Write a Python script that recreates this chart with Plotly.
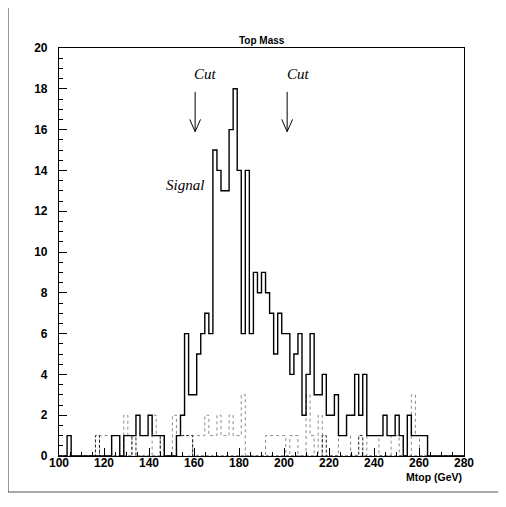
import numpy as np
import plotly.graph_objects as go

# ---------------- data ----------------
XMIN, XMAX, NBINS = 100.0, 280.0, 100

signal = [0, 0, 1, 0, 0, 0, 0, 0, 0, 0,
          0, 0, 0, 1, 1, 0, 1, 1, 1, 2,
          1, 1, 2, 1, 1, 1, 0, 0, 0, 1,
          2, 6, 3, 3, 5, 6, 7, 6, 15, 14,
          13, 13, 16, 18, 14, 6, 14, 6, 9, 8,
          9, 8, 7, 5, 7, 6, 6, 4, 5, 6,
          2, 4, 6, 3, 3, 4, 2, 2, 3, 1,
          1, 2, 2, 4, 2, 4, 1, 1, 1, 1,
          2, 1, 1, 2, 1, 0, 2, 1, 1, 1,
          1, 0, 0, 0, 0, 0, 0, 0, 0, 0]

bkg_dotted = [0, 0, 0, 0, 0, 0, 0, 0, 0, 0,
              1, 1, 1, 0, 0, 0, 2, 1, 0, 0,
              0, 0, 0, 2, 1, 0, 0, 0, 2, 0,
              0, 0, 0, 1, 1, 1, 2, 1, 1, 2,
              1, 1, 2, 1, 1, 3, 0, 0, 0, 0,
              0, 1, 1, 1, 1, 1, 0, 1, 1, 0,
              0, 3, 1, 0, 2, 0, 0, 0, 0, 1,
              1, 1, 0, 0, 0, 0, 1, 1, 1, 0,
              0, 0, 1, 1, 0, 0, 0, 3, 1, 0,
              0, 0, 0, 0, 0, 0, 0, 0, 0, 0]

bkg_dashed = [0, 0, 0, 0, 0, 0, 0, 0, 0, 1,
              0, 0, 0, 0, 0, 0, 0, 0, 1, 0,
              0, 0, 0, 0, 0, 1, 0, 0, 0, 1,
              1, 1, 1, 0, 0, 0, 0, 0, 0, 0,
              0, 0, 0, 0, 0, 0, 0, 0, 0, 0,
              0, 0, 0, 0, 0, 0, 0, 0, 0, 0,
              0, 0, 0, 0, 0, 1, 0, 0, 0, 0,
              0, 0, 0, 0, 1, 0, 0, 0, 0, 0,
              0, 0, 0, 0, 0, 0, 0, 0, 0, 0,
              0, 0, 0, 0, 0, 0, 0, 0, 0, 0]

x_tick_vals = [100, 120, 140, 160, 180, 200, 220, 240, 260, 280]
y_tick_vals = [0, 2, 4, 6, 8, 10, 12, 14, 16, 18, 20]

cut_positions = [160.5, 201.4]
cut_label_x = [164.9, 206.3]
signal_label_x, signal_label_y = 156.0, 13.3

# ---------------- figure ----------------
edges = XMIN + (XMAX - XMIN) / NBINS * np.arange(NBINS + 1)


def step(vals):
    return list(edges), list(vals) + [vals[-1]]


fig = go.Figure()

xs, ys = step(bkg_dotted)
fig.add_trace(go.Scatter(x=xs, y=ys, mode="lines", line_shape="hv",
                         line=dict(color="#8a8a8a", width=1, dash="dot"),
                         hoverinfo="skip"))
xs, ys = step(bkg_dashed)
fig.add_trace(go.Scatter(x=xs, y=ys, mode="lines", line_shape="hv",
                         line=dict(color="#222222", width=1, dash="3px,2px"),
                         hoverinfo="skip"))
xs, ys = step(signal)
fig.add_trace(go.Scatter(x=xs, y=ys, mode="lines", line_shape="hv",
                         line=dict(color="black", width=1.4),
                         hoverinfo="skip"))

# cut arrows
for c in cut_positions:
    fig.add_trace(go.Scatter(x=[c, c], y=[17.85, 15.9], mode="lines",
                             line=dict(color="black", width=1), hoverinfo="skip"))
    fig.add_trace(go.Scatter(x=[c - 2.4, c, c + 2.4], y=[16.5, 15.9, 16.5],
                             mode="lines", line=dict(color="black", width=1),
                             hoverinfo="skip"))

for cx in cut_label_x:
    fig.add_annotation(x=cx, y=18.75, text="<i>Cut</i>", showarrow=False,
                       font=dict(family="Liberation Serif", size=15, color="black"),
                       xanchor="center", yanchor="middle")
fig.add_annotation(x=signal_label_x, y=signal_label_y, text="<i>Signal</i>",
                   showarrow=False,
                   font=dict(family="Liberation Serif", size=15, color="black"),
                   xanchor="center", yanchor="middle")

# title and x label
fig.add_annotation(xref="paper", yref="paper", x=0.501, y=1.0196,
                   text="Top Mass", showarrow=False,
                   font=dict(family="Liberation Sans", size=10, color="black", weight="bold"),
                   xanchor="center", yanchor="middle")
fig.add_annotation(xref="paper", yref="paper", x=1.0, y=-0.0515,
                   text="Mtop (GeV)", showarrow=False,
                   font=dict(family="Liberation Sans", size=10.5, color="black", weight="bold"),
                   xanchor="right", yanchor="middle")

# page border (left and bottom)
fig.add_shape(type="line", xref="paper", yref="paper",
              x0=-0.1259, x1=-0.1259, y0=1.12, y1=-0.0882,
              line=dict(color="#555555", width=1.2))
fig.add_shape(type="line", xref="paper", yref="paper",
              x0=-0.1259, x1=1.11, y0=-0.0882, y1=-0.0882,
              line=dict(color="#555555", width=1.2))

axis_font = dict(family="Liberation Sans", size=12, color="black", weight="bold")
fig.update_xaxes(range=[XMIN, XMAX], tickvals=x_tick_vals, ticks="inside",
                 ticklen=8, tickwidth=1, tickcolor="black",
                 minor=dict(dtick=5, ticks="inside", ticklen=4, tickcolor="black", tickwidth=1),
                 showgrid=False, zeroline=False, showline=True, linecolor="black",
                 linewidth=1.2, mirror=True, tickfont=axis_font, ticklabelstandoff=-5)
fig.update_yaxes(range=[0, 20], tickvals=y_tick_vals, ticks="inside",
                 ticklen=8, tickwidth=1, tickcolor="black",
                 minor=dict(dtick=0.5, ticks="inside", ticklen=4, tickcolor="black", tickwidth=1),
                 showgrid=False, zeroline=False, showline=True, linecolor="black",
                 linewidth=1.2, mirror=True, tickfont=axis_font, ticklabelstandoff=8)

fig.update_layout(width=498, height=499,
                  margin=dict(l=51, r=42, t=40, b=51),
                  paper_bgcolor="white", plot_bgcolor="white",
                  showlegend=False)

fig.write_html("out.html")
